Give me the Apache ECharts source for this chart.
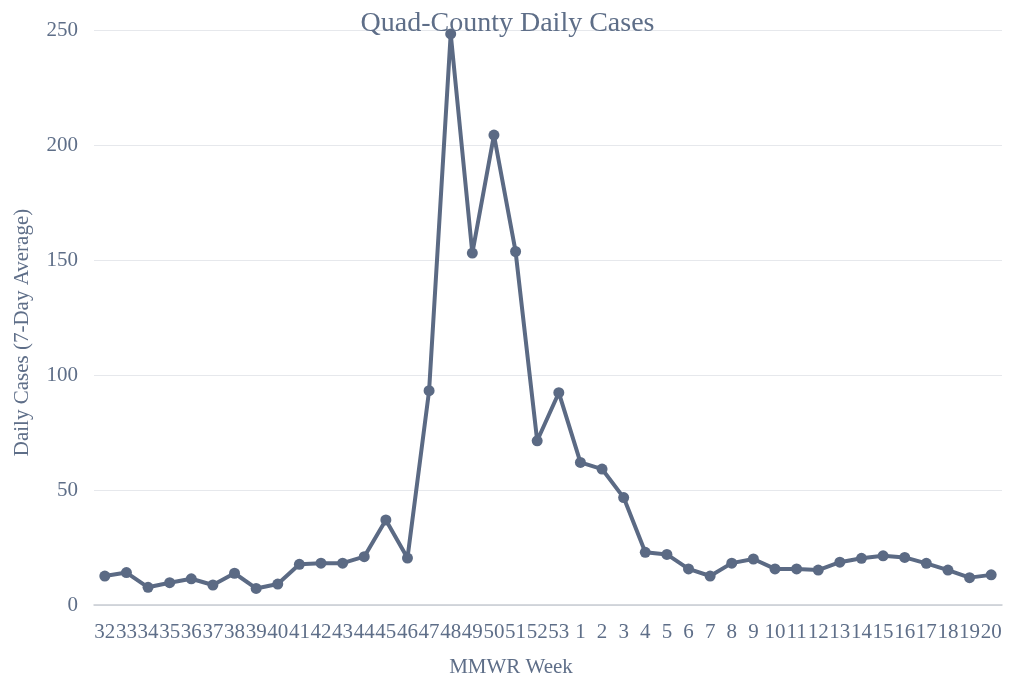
<!DOCTYPE html>
<html lang="en">
  <head>
    <meta charset="UTF-8" />
    <title>Quad-County Daily Cases</title>
    <script src="https://cdn.jsdelivr.net/npm/echarts@6/dist/echarts.min.js"></script>
    <style>
      html, body { margin: 0; padding: 0; background: #fff; }
      #chart { width: 1015px; height: 676px; }
    </style>
  </head>
  <body>
    <div id="chart"></div>
    <script>
      // MMWR weeks: 32..53 of the first year, then 1..20
      var weeks = ['32', '33', '34', '35', '36', '37', '38', '39', '40', '41', '42', '43', '44', '45', '46', '47', '48', '49', '50', '51', '52', '53',
        '1', '2', '3', '4', '5', '6', '7', '8', '9', '10', '11', '12', '13', '14', '15', '16', '17', '18', '19', '20'];
      var dailyCases = [12.6, 14.1, 7.7, 9.7, 11.4, 8.7, 13.8, 7.2, 9.1, 17.7, 18.2, 18.2, 21, 37, 20.4, 93.2, 248.3, 153, 204.3, 153.7, 71.4, 92.3,
        62, 59.1, 46.7, 22.9, 22, 15.7, 12.6, 18.2, 20, 15.7, 15.7, 15.2, 18.6, 20.3, 21.4, 20.7, 18.1, 15.2, 11.9, 13.1];
      var yTicks = { min: 0, max: 250, interval: 50 };

      var lineColor = '#5b6a84';
      var textColor = '#5e6e88';
      var serif = "'Liberation Serif', 'DejaVu Serif', serif";

      var chart = echarts.init(document.getElementById('chart'));
      chart.setOption({
        animation: false,
        title: {
          text: 'Quad-County Daily Cases',
          left: 'center',
          top: 5,
          padding: [5, 0, 5, 8],
          textStyle: { color: textColor, fontFamily: serif, fontSize: 28, fontWeight: 'normal' }
        },
        grid: { left: 94, right: 13, top: 30, bottom: 71, outerBoundsMode: 'none' },
        xAxis: {
          type: 'category',
          data: weeks,
          boundaryGap: true,
          name: 'MMWR Week',
          nameLocation: 'middle',
          nameGap: 52,
          nameTextStyle: { color: textColor, fontFamily: serif, fontSize: 21, padding: [0, 74, 0, 0] },
          axisLine: { lineStyle: { color: '#c8ccd2', width: 1.5 } },
          axisTick: { show: false },
          axisLabel: { interval: 0, margin: 17, color: textColor, fontFamily: serif, fontSize: 21 }
        },
        yAxis: {
          type: 'value',
          min: yTicks.min,
          max: yTicks.max,
          interval: yTicks.interval,
          name: 'Daily Cases (7-Day Average)',
          nameLocation: 'middle',
          nameGap: 61,
          nameTextStyle: { color: textColor, fontFamily: serif, fontSize: 21, padding: [0, 30, 0, 0] },
          axisLine: { show: false },
          axisTick: { show: false },
          axisLabel: { margin: 16, color: textColor, fontFamily: serif, fontSize: 21 },
          splitLine: { lineStyle: { color: '#e6e8ec', width: 1 } }
        },
        series: [
          {
            type: 'line',
            data: dailyCases,
            symbol: 'circle',
            symbolSize: 11,
            lineStyle: { color: lineColor, width: 4 },
            itemStyle: { color: lineColor }
          }
        ]
      });
    </script>
  </body>
</html>
